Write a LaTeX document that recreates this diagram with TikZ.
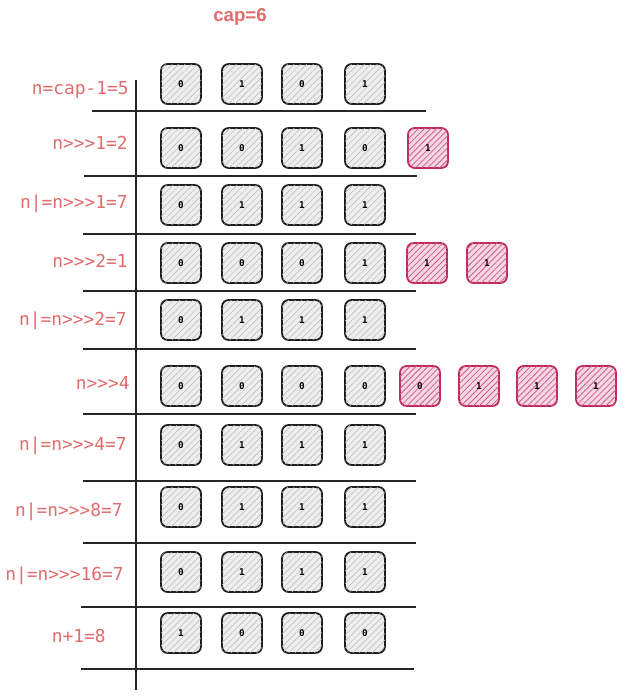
\documentclass[tikz,border=0pt]{standalone}
\usepackage{fontspec}
\usepackage{tikz}
\usetikzlibrary{patterns.meta,positioning}
\newfontfamily\labfont{DejaVu Sans Mono}
\newfontfamily\titfont{Liberation Sans}
\definecolor{labred}{HTML}{E06C6C}
\definecolor{bitline}{HTML}{1E1E1E}
\definecolor{bitfill}{HTML}{EEEEEE}
\definecolor{carry}{HTML}{BE2A5E}
\definecolor{carryfill}{HTML}{F7D6E3}
\tikzset{
 cell/.style={rounded corners=5pt,minimum size=30pt,inner sep=0pt,line width=1.35pt,font=\labfont\bfseries\fontsize{7}{8}\selectfont},
 bit/.style={cell,draw=bitline,fill=bitfill,postaction={pattern={Lines[angle=45,distance=3.4pt,line width=0.35pt]},pattern color=black!28}},
 lost/.style={cell,draw=carry,fill=carryfill,postaction={pattern={Lines[angle=45,distance=3.2pt,line width=0.6pt]},pattern color=carry!75}},
 rowlab/.style={font=\labfont\fontsize{13.4}{15}\selectfont,text=labred,anchor=east,inner sep=0pt},
 rule/.style={line width=0.8pt,black!85}
}
\begin{document}
\begin{tikzpicture}[x=0.75pt,y=-0.75pt]
\useasboundingbox (0,0) rectangle (626,698);
\node[font=\titfont\bfseries\fontsize{14}{16}\selectfont,text=labred] (cap) at (240,17) {cap=6};
\draw[rule] (136,80)--(136,690);
\foreach \y/\a/\b in {111/92/426,176/84/417,234/83/416,291/83/416,349/83/416,414/83/416,481/83/416,543/83/416,607/81/416,669/81/414} \draw[rule] (\a,\y)--(\b,\y);
\foreach \t/\lx/\ly/\by/\a/\b/\c/\d [count=\r] in {n=cap-1=5/129/90/84/0/1/0/1,n>>>1=2/128/143/148/0/0/1/0,n|=n>>>1=7/128/204/205/0/1/1/1,n>>>2=1/128/261/263/0/0/0/1,n|=n>>>2=7/127/321/320/0/1/1/1,n>>>4/130/383/386/0/0/0/0,n|=n>>>4=7/127/446/445/0/1/1/1,n|=n>>>8=7/123/512/507/0/1/1/1,n|=n>>>16=7/124/576/572/0/1/1/1,n+1=8/106/636/633/1/0/0/0}{
 \node[rowlab] (l\r) at (\lx,\ly) {\t};
 \foreach \v/\x [count=\k] in {\a/181,\b/242,\c/302,\d/365} \node[bit] (b\r-\k) at (\x,\by) {\v};
}
\node[lost] (c2-1) at (428,148) {1};
\foreach \x [count=\k] in {427,487} \node[lost] (c4-\k) at (\x,263) {1};
\foreach \v/\x [count=\k] in {0/420,1/479,1/537,1/596} \node[lost] (c6-\k) at (\x,386) {\v};
\end{tikzpicture}
\end{document}
